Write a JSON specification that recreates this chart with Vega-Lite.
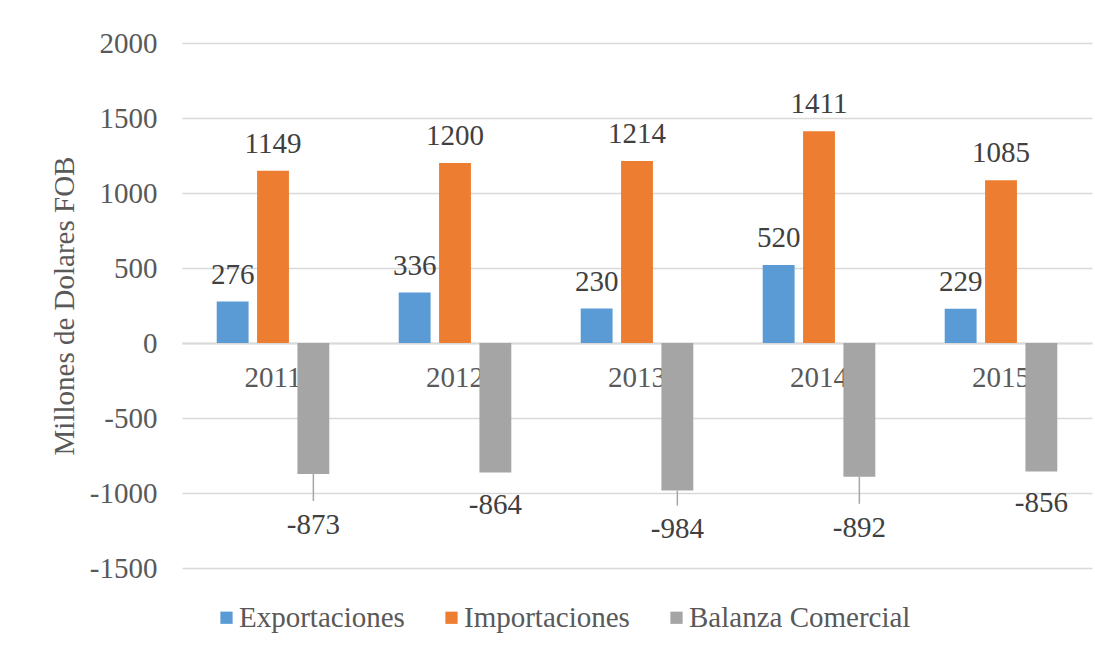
{
  "$schema": "https://vega.github.io/schema/vega-lite/v6.json",
  "width": 910,
  "height": 525,
  "autosize": "none",
  "padding": {"left": 182, "top": 43, "right": 3, "bottom": 80},
  "background": "white",
  "config": {"view": {"stroke": null}, "font": "Liberation Serif"},
  "data": {"values": [
    {"year": "2011", "series": "Exportaciones", "value": 276},
    {"year": "2011", "series": "Importaciones", "value": 1149},
    {"year": "2011", "series": "Balanza Comercial", "value": -873},
    {"year": "2012", "series": "Exportaciones", "value": 336},
    {"year": "2012", "series": "Importaciones", "value": 1200},
    {"year": "2012", "series": "Balanza Comercial", "value": -864},
    {"year": "2013", "series": "Exportaciones", "value": 230},
    {"year": "2013", "series": "Importaciones", "value": 1214},
    {"year": "2013", "series": "Balanza Comercial", "value": -984},
    {"year": "2014", "series": "Exportaciones", "value": 520},
    {"year": "2014", "series": "Importaciones", "value": 1411},
    {"year": "2014", "series": "Balanza Comercial", "value": -892},
    {"year": "2015", "series": "Exportaciones", "value": 229},
    {"year": "2015", "series": "Importaciones", "value": 1085},
    {"year": "2015", "series": "Balanza Comercial", "value": -856}
  ]},
  "encoding": {
    "x": {
      "field": "year", "type": "nominal",
      "scale": {"paddingInner": 0, "paddingOuter": 0},
      "axis": {
        "title": null, "orient": "bottom", "offset": -225, "labelAngle": 0,
        "labelFont": "Liberation Serif", "labelFontSize": 29, "labelColor": "#595959",
        "labelPadding": 20, "ticks": false, "tickSize": 0,
        "domainColor": "#d9d9d9", "domainWidth": 2
      }
    },
    "xOffset": {
      "field": "series", "type": "nominal",
      "scale": {"domain": ["Exportaciones", "Importaciones", "Balanza Comercial"], "paddingInner": 0.21, "paddingOuter": 0.86}
    },
    "y": {
      "field": "value", "type": "quantitative",
      "scale": {"domain": [-1500, 2000], "nice": false, "zero": false},
      "axis": {
        "title": "Millones de Dolares FOB",
        "values": [-1500, -1000, -500, 0, 500, 1000, 1500, 2000],
        "labelExpr": "'' + datum.value",
        "grid": true, "gridColor": "#d9d9d9", "gridWidth": 1.5,
        "domain": false, "ticks": false, "tickSize": 0,
        "labelFont": "Liberation Serif", "labelFontSize": 29, "labelColor": "#595959", "labelPadding": 25,
        "titleFont": "Liberation Serif", "titleFontSize": 29, "titleFontWeight": "normal", "titleColor": "#595959", "titlePadding": 10
      }
    }
  },
  "layer": [
    {
      "mark": {"type": "bar"},
      "encoding": {
        "color": {
          "field": "series", "type": "nominal",
          "scale": {"domain": ["Exportaciones", "Importaciones", "Balanza Comercial"], "range": ["#5B9BD5", "#ED7D31", "#A5A5A5"]},
          "legend": {
            "orient": "none", "legendX": 30, "legendY": 560, "direction": "horizontal", "title": null,
            "labelFont": "Liberation Serif", "labelFontSize": 29, "labelColor": "#595959", "labelLimit": 0,
            "symbolType": "square", "symbolSize": 150, "symbolStrokeWidth": 0, "labelOffset": -2, "columnPadding": 32
          }
        }
      }
    },
    {
      "transform": [{"filter": "datum.value >= 0"}],
      "mark": {"type": "text", "baseline": "alphabetic", "dy": -18, "fontSize": 29, "color": "#404040", "font": "Liberation Serif"},
      "encoding": {"text": {"field": "value", "type": "nominal"}}
    },
    {
      "transform": [{"filter": "datum.value < 0 && (datum.year == '2011' || datum.year == '2014')"}],
      "mark": {"type": "text", "baseline": "alphabetic", "dy": 60, "fontSize": 29, "color": "#404040", "font": "Liberation Serif"},
      "encoding": {"text": {"field": "value", "type": "nominal"}}
    },
    {
      "transform": [{"filter": "datum.value < 0 && datum.year == '2013'"}],
      "mark": {"type": "text", "baseline": "alphabetic", "dy": 47, "fontSize": 29, "color": "#404040", "font": "Liberation Serif"},
      "encoding": {"text": {"field": "value", "type": "nominal"}}
    },
    {
      "transform": [{"filter": "datum.value < 0 && (datum.year == '2012' || datum.year == '2015')"}],
      "mark": {"type": "text", "baseline": "alphabetic", "dy": 41, "fontSize": 29, "color": "#404040", "font": "Liberation Serif"},
      "encoding": {"text": {"field": "value", "type": "nominal"}}
    },
    {
      "transform": [{"filter": "datum.value < 0 && (datum.year == '2011' || datum.year == '2014')"}],
      "mark": {"type": "rule", "color": "#a6a6a6", "strokeWidth": 1.5, "y2Offset": 27},
      "encoding": {"y2": {"field": "value"}}
    },
    {
      "transform": [{"filter": "datum.value < 0 && datum.year == '2013'"}],
      "mark": {"type": "rule", "color": "#a6a6a6", "strokeWidth": 1.5, "y2Offset": 15},
      "encoding": {"y2": {"field": "value"}}
    }
  ]
}
